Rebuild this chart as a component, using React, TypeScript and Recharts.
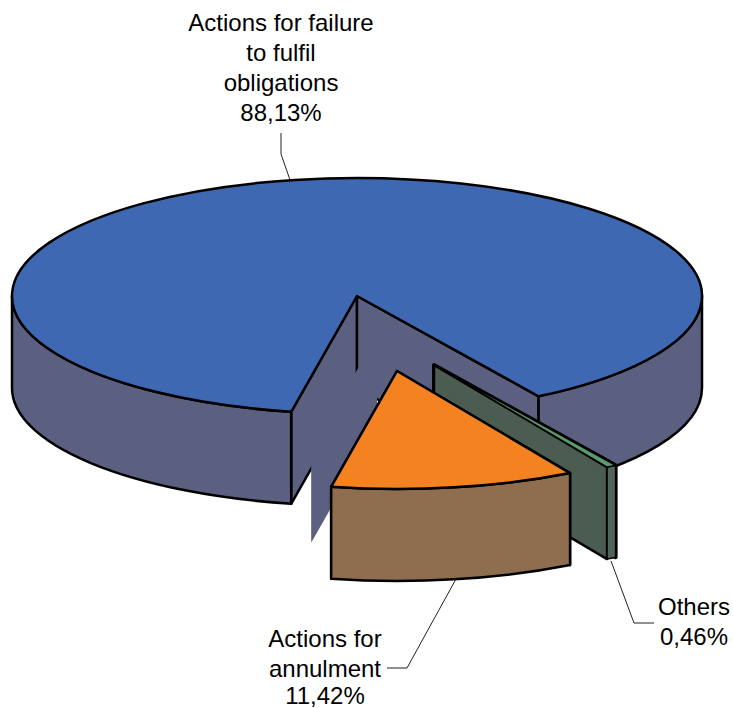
import React from 'react';
import { PieChart, Pie } from 'recharts';

const categories = ['Actions for failure to fulfil obligations', 'Others', 'Actions for annulment'];
const shares = [88.13, 0.46, 11.42];
const labelLines = [
  ['Actions for failure', 'to fulfil', 'obligations', '88,13%'],
  ['Others', '0,46%'],
  ['Actions for', 'annulment', '11,42%'],
];
const topColors = ['#3E68B2', '#5A9A6E', '#F58220'];
const wallColors = ['#5C6080', '#4B5C50', '#8E6E4E'];
const rimColors = ['#5C6080', '#506558', '#8E6E4E'];

const explode = [[0, 0], [77, 69], [40, 75]];
const labelX = [281, 694, 325];
const labelBase = [[30.5, 61, 91, 120.5], [615, 645], [647, 676.5, 704]];
const leaders = [
  [[281, 133], [281, 154], [290, 180]],
  [[611, 561], [634, 623], [654, 623]],
  [[456, 579], [407, 668], [387, 668]],
];
const farWallStroke = [2.5, 4, 2.5];

const TILT = 0.342;
const DEPTH = 92;
const GHOST = [20, 39];
const STROKE = 2.5;

const data = categories.map((name, i) => ({ name, value: shares[i], i }));

function Slice3D(props: any) {
  const { cx, cy, outerRadius, startAngle, endAngle } = props;
  const i = props.payload?.i ?? props.i ?? 0;
  const [ex, ey] = explode[i];
  const rx = outerRadius;
  const ry = outerRadius * TILT;
  const ax = cx + ex;
  const ay = cy + ey;
  const t0 = -startAngle;
  const t1 = -endAngle;
  const rad = (t: number) => (t * Math.PI) / 180;
  const px = (t: number) => ax + rx * Math.cos(rad(t));
  const py = (t: number) => ay + ry * Math.sin(rad(t));
  const stroke = { stroke: '#000', strokeWidth: STROKE, strokeLinejoin: 'round' as const };

  const arc = (a: number, b: number, sweep: number) =>
    `A ${rx} ${ry} 0 ${Math.abs(b - a) > 180 ? 1 : 0} ${sweep} ${px(b)} ${py(b)}`;
  const edgeWall = (t: number) =>
    `M ${ax} ${ay} L ${px(t)} ${py(t)} L ${px(t)} ${py(t) + DEPTH} L ${ax} ${ay + DEPTH} Z`;

  const rims: string[] = [];
  [0, 360].forEach((base) => {
    const a = Math.max(t0, base);
    const b = Math.min(t1, base + 180);
    if (b > a) {
      const d = DEPTH;
      rims.push(
        `M ${px(a)} ${py(a)} ${arc(a, b, 1)} L ${px(b)} ${py(b) + d} ` +
          `A ${rx} ${ry} 0 ${b - a > 180 ? 1 : 0} 0 ${px(a)} ${py(a) + d} Z`,
      );
    }
  });

  const top = `M ${ax} ${ay} L ${px(t0)} ${py(t0)} ${arc(t0, t1, 1)} Z`;
  const gx = ax + GHOST[0];
  const gy = ay + GHOST[1];
  const ghostDx = px(t0) - ax;
  const ghostDy = py(t0) - ay;
  const ghost = `M ${gx} ${gy} L ${gx + ghostDx} ${gy + ghostDy} L ${gx + ghostDx} ${gy + ghostDy + DEPTH} L ${gx} ${gy + DEPTH} Z`;

  return (
    <g>
      <path d={edgeWall(t0)} fill={wallColors[i]} {...stroke} strokeWidth={farWallStroke[i]} />
      <path d={edgeWall(t1)} fill={wallColors[i]} {...stroke} />
      {rims.map((d) => (
        <path key={d} d={d} fill={rimColors[i]} {...stroke} strokeWidth={i === 1 ? 1.5 : STROKE} />
      ))}
      <path d={top} fill={topColors[i]} {...stroke} strokeWidth={i === 1 ? 1.5 : STROKE} />
      {i === 0 && <path d={ghost} fill={wallColors[0]} stroke="none" />}
    </g>
  );
}

function SliceLabel(props: any) {
  const i = props.index ?? 0;
  const pts = leaders[i].map((p) => p.join(',')).join(' ');
  return (
    <g>
      <polyline points={pts} fill="none" stroke="#222" strokeWidth={1} />
      <text textAnchor="middle" fontFamily="'Liberation Sans', Arial, sans-serif" fontSize={24} fill="#000">
        {labelLines[i].map((line, k) => (
          <tspan key={line} x={labelX[i]} y={labelBase[i][k]}>
            {line}
          </tspan>
        ))}
      </text>
    </g>
  );
}

export default function App() {
  const shapeProps: any = { shape: Slice3D, activeShape: Slice3D, inactiveShape: Slice3D };
  return (
    <div style={{ position: 'absolute', left: 0, top: 0, width: 733, height: 708, overflow: 'hidden' }}>
      <PieChart width={733} height={708} margin={{ top: 0, right: 0, bottom: 0, left: 0 }}>
        <Pie
          data={data}
          dataKey="value"
          nameKey="name"
          cx={357}
          cy={296}
          innerRadius={0}
          outerRadius={345}
          startAngle={-101}
          endAngle={-461}
          paddingAngle={0}
          isAnimationActive={false}
          labelLine={false}
          label={SliceLabel}
          {...shapeProps}
        />
      </PieChart>
    </div>
  );
}
